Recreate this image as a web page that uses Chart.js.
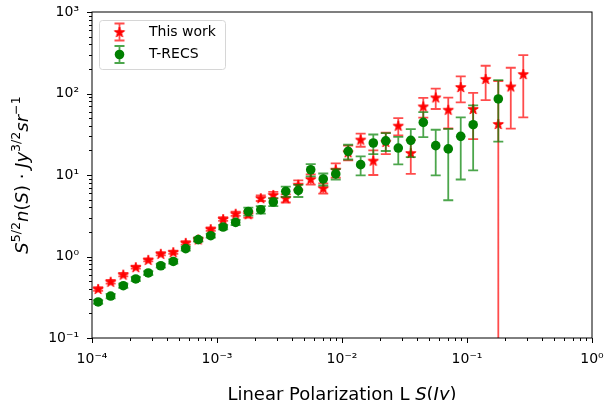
<!DOCTYPE html>
<html>
<head>
<meta charset="utf-8">
<script src="https://cdn.jsdelivr.net/npm/chart.js@4.4.0/dist/chart.umd.min.js"></script>
<style>
    html, body { margin: 0; padding: 0; background: #fff; }
    #wrap { width: 605px; height: 400px; }
</style>
</head>
<body>
<div id="wrap"><canvas id="countsChart" width="605" height="400"></canvas></div>
<script>
// flux bin centres (Jy)
const fluxBins = [1.12e-4, 1.41e-4, 1.78e-4, 2.24e-4, 2.82e-4, 3.55e-4, 4.47e-4, 5.62e-4, 7.08e-4, 8.91e-4,
    1.12e-3, 1.41e-3, 1.78e-3, 2.24e-3, 2.82e-3, 3.55e-3, 4.47e-3, 5.62e-3, 7.08e-3, 8.91e-3,
    1.12e-2, 1.41e-2, 1.78e-2, 2.24e-2, 2.82e-2, 3.55e-2, 4.47e-2, 5.62e-2, 7.08e-2, 8.91e-2,
    0.112, 0.141, 0.178, 0.224, 0.282];

const thisWork = [0.40, 0.49, 0.60, 0.74, 0.91, 1.08, 1.13, 1.47, 1.62, 2.17,
    2.88, 3.35, 3.3, 5.2, 5.7, 5.2, 7.6, 8.9, 6.9, 11.6,
    19, 27.2, 15, 25.5, 40.3, 18.6, 69.5, 89.5, 63.2, 120,
    64.6, 151, 42.3, 122, 173];
const thisWorkErr = [0.02, 0.025, 0.03, 0.03, 0.04, 0.05, 0.05, 0.07, 0.08, 0.1,
    0.15, 0.2, 0.3, 0.4, 0.5, 0.6, 1.0, 1.3, 1.0, 2.3,
    3.9, 5, 5, 7.5, 9.7, 8.3, 19, 25, 26, 42,
    37, 68, 100, 85, 122];

const trecs = [0.277, 0.327, 0.438, 0.53, 0.628, 0.77, 0.87, 1.25, 1.61, 1.80,
    2.30, 2.62, 3.57, 3.75, 4.66, 6.3, 6.47, 11.6, 8.93, 10.3,
    19.5, 13.4, 24.7, 26.2, 21.4, 26.6, 44.2, 22.9, 20.9, 29.8,
    41.4, null, 85.7];
const trecsErr = [0.015, 0.02, 0.025, 0.03, 0.035, 0.04, 0.05, 0.07, 0.09, 0.1,
    0.15, 0.2, 0.4, 0.4, 0.5, 0.9, 1.1, 2, 1.5, 1.5,
    4, 3.5, 6.7, 6.5, 7.9, 10, 15, 13, 16, 21,
    30, null, 60];

const xMajorTicks = [1e-4, 1e-3, 1e-2, 1e-1, 1];
const xTickLabels = ['10⁻⁴', '10⁻³', '10⁻²', '10⁻¹', '10⁰'];
const yMajorTicks = [1e-1, 1, 10, 100, 1000];
const yTickLabels = ['10⁻¹', '10⁰', '10¹', '10²', '10³'];

const FONT = "'DejaVu Sans', sans-serif";

const withMinors = (majors) => majors.flatMap((d, i) =>
    i === majors.length - 1 ? [d] : [d, ...[2, 3, 4, 5, 6, 7, 8, 9].map(m => d * m)]);

const toPoints = (vals, errs) => fluxBins.slice(0, vals.length)
    .map((x, i) => ({ x, y: vals[i], err: errs[i] }))
    .filter(p => p.y != null);

const makeStar = (r, color) => {
    const c = document.createElement('canvas');
    const s = Math.ceil(r * 2 + 3);
    c.width = c.height = s;
    const g = c.getContext('2d');
    g.translate(s / 2, s / 2 + 0.5);
    g.beginPath();
    for (let i = 0; i < 10; i++) {
        const rr = i % 2 ? r * 0.382 : r;
        const a = -Math.PI / 2 + i * Math.PI / 5;
        g.lineTo(rr * Math.cos(a), rr * Math.sin(a));
    }
    g.closePath();
    g.fillStyle = color;
    g.fill();
    g.lineWidth = 1;
    g.strokeStyle = color;
    g.stroke();
    return c;
};
const starImg = makeStar(5.4, '#ff0000');

const drawBar = (ctx, px, top, bottom, capTop, capBottom) => {
    ctx.moveTo(px, top);
    ctx.lineTo(px, bottom);
    if (capTop) { ctx.moveTo(px - 5, top); ctx.lineTo(px + 5, top); }
    if (capBottom) { ctx.moveTo(px - 5, bottom); ctx.lineTo(px + 5, bottom); }
};

// error bars drawn just under each dataset's markers
const errorBarPlugin = {
    id: 'errorBars',
    beforeDatasetDraw(chart, args) {
        const ds = chart.data.datasets[args.index];
        const { ctx, chartArea: area, scales: { x, y } } = chart;
        ctx.save();
        ctx.beginPath();
        ctx.rect(area.left, area.top, area.width, area.height);
        ctx.clip();
        ctx.beginPath();
        ds.data.forEach(p => {
            const px = x.getPixelForValue(p.x);
            const top = y.getPixelForValue(p.y + p.err);
            const lo = p.y - p.err;
            const bottom = lo > 0 ? y.getPixelForValue(lo) : area.bottom + 5;
            drawBar(ctx, px, top, bottom, true, lo > 0);
        });
        ctx.strokeStyle = ds.errorColor;
        ctx.lineWidth = 1.8;
        ctx.stroke();
        ctx.restore();
    }
};

const drawRich = (ctx, parts, size) => {
    const fontOf = (p) => `${p[1] === 'i' ? 'italic ' : ''}${p[1] === 'sup' ? size * 0.7 : size}px ${FONT}`;
    const widths = parts.map(p => { ctx.font = fontOf(p); return ctx.measureText(p[0]).width; });
    let cx = -widths.reduce((a, b) => a + b, 0) / 2;
    parts.forEach((p, i) => {
        ctx.font = fontOf(p);
        ctx.fillText(p[0], cx, p[1] === 'sup' ? -size * 0.42 : 0);
        cx += widths[i];
    });
};

const yLabelParts = [['S', 'i'], ['5/2', 'sup'], ['n', 'i'], ['(', ''], ['S', 'i'], [')', ''], [' · ', ''],
    ['Jy', 'i'], ['3/2', 'sup'], ['sr', 'i'], ['−1', 'sup']];
const xLabelParts = [['Linear Polarization L ', ''], ['S', 'i'], ['(', ''], ['Jy', 'i'], [')', '']];

const framePlugin = {
    id: 'frame',
    afterDraw(chart) {
        const { ctx, chartArea: a, scales: { x, y } } = chart;
        ctx.save();
        ctx.strokeStyle = '#000';
        ctx.lineWidth = 1;
        ctx.strokeRect(a.left, a.top, a.width, a.height);

        // tick marks, pointing out
        ctx.beginPath();
        x.ticks.forEach(t => {
            const px = Math.round(x.getPixelForValue(t.value)) + 0.5;
            const len = xMajorTicks.includes(t.value) ? 5 : 3;
            ctx.moveTo(px, a.bottom);
            ctx.lineTo(px, a.bottom + len);
        });
        y.ticks.forEach(t => {
            const py = Math.round(y.getPixelForValue(t.value)) + 0.5;
            const len = yMajorTicks.includes(t.value) ? 5 : 3;
            ctx.moveTo(a.left, py);
            ctx.lineTo(a.left - len, py);
        });
        ctx.stroke();

        // axis titles
        ctx.fillStyle = '#000';
        ctx.textBaseline = 'alphabetic';
        ctx.save();
        ctx.translate((a.left + a.right) / 2, 400);
        drawRich(ctx, xLabelParts, 18);
        ctx.restore();
        ctx.save();
        ctx.translate(28, (a.top + a.bottom) / 2);
        ctx.rotate(-Math.PI / 2);
        drawRich(ctx, yLabelParts, 18);
        ctx.restore();

        // legend
        ctx.beginPath();
        ctx.roundRect(99.5, 20.5, 126, 49, 3);
        ctx.fillStyle = 'rgba(255,255,255,0.8)';
        ctx.fill();
        ctx.strokeStyle = '#d6d6d6';
        ctx.stroke();
        chart.data.datasets.slice().sort((p, q) => q.order - p.order).forEach((ds, i) => {
            const ly = 32 + i * 22.5;
            ctx.beginPath();
            drawBar(ctx, 119.5, ly - 8.5, ly + 8.5, true, true);
            ctx.strokeStyle = ds.errorColor;
            ctx.lineWidth = 1.8;
            ctx.stroke();
            if (ds.pointStyle === 'circle') {
                ctx.beginPath();
                ctx.arc(119.5, ly, ds.pointRadius, 0, Math.PI * 2);
                ctx.fillStyle = ds.backgroundColor;
                ctx.fill();
            } else {
                ctx.drawImage(ds.pointStyle, 119.5 - ds.pointStyle.width / 2, ly - ds.pointStyle.height / 2);
            }
            ctx.fillStyle = '#000';
            ctx.font = `14px ${FONT}`;
            ctx.textBaseline = 'middle';
            ctx.fillText(ds.label, 149, ly);
        });
        ctx.restore();
    }
};

document.addEventListener('DOMContentLoaded', () => {
    Chart.defaults.font.family = FONT;
    Chart.defaults.font.size = 14;
    Chart.defaults.color = '#000';

    const logAxis = (min, max, majors, labels, pad, fit) => ({
        type: 'logarithmic',
        min, max,
        grid: { display: false, drawTicks: false },
        border: { display: false },
        afterBuildTicks: (scale) => { scale.ticks = withMinors(majors).map(value => ({ value })); },
        afterFit: (s) => {
            fit(s);
            // let the end labels hang over the plot edges
            s.paddingLeft = s.paddingRight = s.paddingTop = s.paddingBottom = 0;
        },
        ticks: {
            autoSkip: false, maxRotation: 0, padding: pad,
            callback: (value) => {
                const i = majors.indexOf(value);
                return i >= 0 ? labels[i] : '';
            }
        }
    });

    new Chart(document.getElementById('countsChart'), {
        type: 'scatter',
        data: {
            datasets: [{
                label: 'This work',
                data: toPoints(thisWork, thisWorkErr),
                pointStyle: starImg,
                backgroundColor: '#ff0000', borderColor: '#ff0000',
                errorColor: 'rgba(255,0,0,0.7)',
                order: 2
            }, {
                label: 'T-RECS',
                data: toPoints(trecs, trecsErr),
                pointStyle: 'circle', pointRadius: 4.8, pointBorderWidth: 0,
                backgroundColor: '#008000', borderColor: '#008000',
                errorColor: 'rgba(0,128,0,0.7)',
                order: 1
            }]
        },
        options: {
            responsive: false, animation: false, devicePixelRatio: 1,
            layout: { padding: { top: 12, right: 13, bottom: 0, left: 0 } },
            plugins: { legend: { display: false }, tooltip: { enabled: false } },
            scales: {
                x: logAxis(1e-4, 1, xMajorTicks, xTickLabels, 13, (s) => { s.height = 62; }),
                y: logAxis(0.1, 1000, yMajorTicks, yTickLabels, 13, (s) => { s.width = 92; })
            }
        },
        plugins: [errorBarPlugin, framePlugin]
    });
});
</script>
</body>
</html>
